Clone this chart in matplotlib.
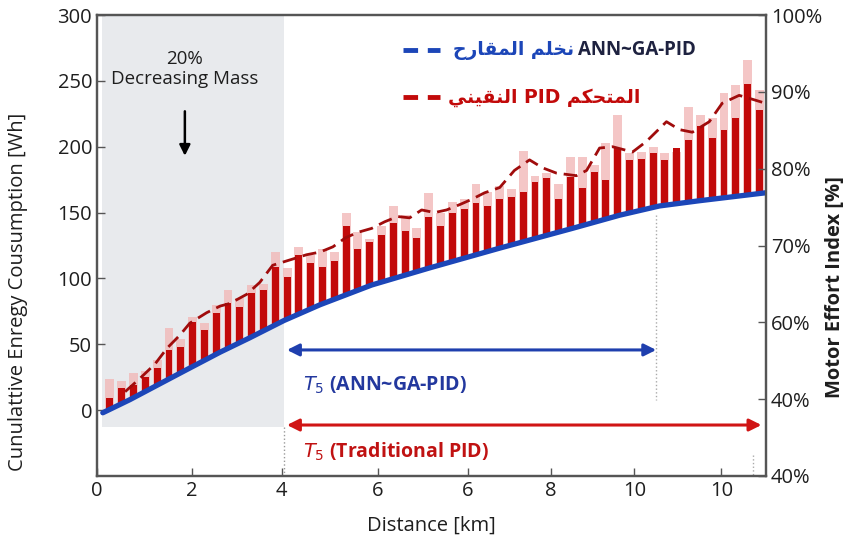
# ---------- Importing Libraries ---------- #
import numpy as np
import matplotlib
matplotlib.use("Agg")
from matplotlib import pyplot as plt
from matplotlib.lines import Line2D

# ---------- Data ---------- #
# x positions are in "tick units" (the reference axis labels are not evenly spaced)
tick_pos = [0, 2.13, 4.14, 6.29, 8.31, 10.17, 12.05, 14.0]
tick_labels = ['0', '2', '4', '6', '6', '8', '10', '10']

# blue cumulative curve (ANN~GA-PID)
blue_x = [0.13, 0.74, 1.41, 1.97, 2.76, 3.43, 4.19, 5.0, 6.16, 7.46, 9.03, 10.66, 11.72, 12.61, 13.51, 14.99]
blue_y = [-2, 8, 20, 30, 44, 55, 68, 80, 95, 108, 123, 138, 148, 155, 159, 165]

# red dashed curve (traditional PID)
red_x = [0.63, 0.96, 1.30, 1.57, 1.86, 2.08, 2.46, 2.76, 2.98, 3.36, 3.65, 3.94, 4.32, 4.70, 5.00, 5.29,
         5.58, 5.85, 6.16, 6.45, 6.74, 7.01, 7.28, 7.57, 7.84, 8.13, 8.40, 8.69, 9.03, 9.36, 9.70, 9.99,
         10.30, 10.75, 10.98, 11.27, 11.56, 12.01, 12.32, 12.77, 13.06, 13.35, 13.73, 14.02, 14.40, 14.70, 14.99]
red_y = [14, 24, 35, 47, 57, 66, 74, 79, 81, 88, 97, 110, 114, 118, 120, 124,
         131, 135, 138, 143, 147, 146, 152, 150, 152, 156, 160, 165, 169, 182, 190, 184,
         180, 178, 182, 199, 200, 196, 204, 219, 213, 211, 219, 233, 239, 236, 233]

# bar tops (dark red = measured, pink = peak)
bar_dark = [9, 17, 19, 25, 32, 46, 48, 67, 61, 74, 81, 78, 89, 91, 109, 101, 118, 112, 109, 113,
            140, 122, 128, 133, 142, 136, 131, 147, 140, 150, 153, 157, 155, 160,
            162, 166, 173, 176, 160, 177, 169, 181, 175, 199, 190, 191, 195, 190, 199, 205, 216, 207,
            213, 222, 248, 228]
bar_pink = [24, 22, 28, 30, 38, 62, 54, 71, 66, 80, 91, 85, 95, 96, 120, 108, 124, 118, 122, 120,
            150, 135, 130, 140, 155, 148, 138, 165, 150, 158, 160, 172, 166, 170,
            168, 197, 178, 180, 172, 192, 192, 186, 203, 224, 195, 196, 200, 195, 196, 230, 224, 222,
            241, 247, 266, 243]

right_ticks = [100, 90, 80, 70, 60, 50, 40]
right_labels = ['100%', '90%', '80%', '70%', '60%', '40%', '40%']

leg1_ar = "نخلم المقارح"
leg1_en = "ANN~GA-PID"
leg2 = "المتحكم PID النقيني"

# ---------- Functions ---------- #
FORMS = {  # isolated, final, initial, medial
    'ا': ('\uFE8D', '\uFE8E', None, None),
    'ر': ('\uFEAD', '\uFEAE', None, None),
    'ت': ('\uFE95', '\uFE96', '\uFE97', '\uFE98'),
    'ح': ('\uFEA1', '\uFEA2', '\uFEA3', '\uFEA4'),
    'خ': ('\uFEA5', '\uFEA6', '\uFEA7', '\uFEA8'),
    'ق': ('\uFED5', '\uFED6', '\uFED7', '\uFED8'),
    'ك': ('\uFED9', '\uFEDA', '\uFEDB', '\uFEDC'),
    'ل': ('\uFEDD', '\uFEDE', '\uFEDF', '\uFEE0'),
    'م': ('\uFEE1', '\uFEE2', '\uFEE3', '\uFEE4'),
    'ن': ('\uFEE5', '\uFEE6', '\uFEE7', '\uFEE8'),
    'ي': ('\uFEF1', '\uFEF2', '\uFEF3', '\uFEF4'),
}


def shape_word(w):
    out = []
    for i, c in enumerate(w):
        f = FORMS[c]
        prev = i > 0 and FORMS[w[i - 1]][2] is not None
        nxt = i < len(w) - 1 and f[2] is not None
        if prev and nxt:
            out.append(f[3])
        elif prev:
            out.append(f[1])
        elif nxt:
            out.append(f[2])
        else:
            out.append(f[0])
    return ''.join(reversed(out))


def rtl(text):
    """crude right-to-left layout since matplotlib has no bidi/shaping"""
    words = text.split(' ')
    vis = [shape_word(w) if w[0] in FORMS else w for w in words]
    return ' '.join(reversed(vis))


# ---------- Main Code ---------- #
plt.rcParams['font.family'] = ['Open Sans', 'DejaVu Sans']
fig = plt.figure(figsize=(8.51, 5.52), dpi=100)
ax = fig.add_axes([0.114, 0.1377, 0.786, 0.8351])

DARK_RED = '#c20a0a'
BLUE = '#1c46b8'
GRAY = '#555555'
TXT = '#1e1e1e'

bar_x = 0.29 + 0.2648 * np.arange(len(bar_dark))
base = np.interp(bar_x, blue_x, blue_y)

# shaded region
ax.fill_between([0.12, 4.19], -13, 300, color='#e8eaed', zorder=0, lw=0)

ax.bar(bar_x, np.array(bar_pink) - base, bottom=base, width=0.2, color='#f2b8b8', alpha=0.8, zorder=1)
ax.bar(bar_x, np.array(bar_dark) - base, bottom=base, width=0.155, color=DARK_RED, zorder=2)
ax.plot(red_x, red_y, '--', color='#a00c0c', lw=2.0, dashes=(5, 2.5), zorder=3)
ax.plot(blue_x, blue_y, '-', color=BLUE, lw=3.8, solid_capstyle='round', zorder=4)

# dotted guides
ax.plot([4.19, 4.19], [-13, -50], ':', color='#999999', lw=1)
ax.plot([12.54, 12.54], [148, 8], ':', color='#aaaaaa', lw=1)
ax.plot([14.72, 14.72], [-34, -50], ':', color='#aaaaaa', lw=1)

# double arrows
ax.annotate('', xy=(4.26, 45.7), xytext=(12.54, 45.7),
            arrowprops=dict(arrowstyle='<|-|>', color='#1f3fae', lw=2.2, mutation_scale=18,
                            shrinkA=0, shrinkB=0))
ax.annotate('', xy=(4.26, -11.3), xytext=(14.9, -11.3),
            arrowprops=dict(arrowstyle='<|-|>', color='#d01515', lw=2.2, mutation_scale=18,
                            shrinkA=0, shrinkB=0))
ax.text(4.62, 19, r'$T_5$ (ANN~GA-PID)', color='#23389e', fontsize=14, fontweight='bold', va='center')
ax.text(4.62, -31.8, r'$T_5$ (Traditional PID)', color='#c01212', fontsize=14, fontweight='bold', va='center')

# mass annotation
ax.text(1.97, 259, '20%\nDecreasing Mass', ha='center', va='center', fontsize=13.5, color=TXT,
        linespacing=1.15)
ax.annotate('', xy=(1.97, 191), xytext=(1.97, 229),
            arrowprops=dict(arrowstyle='-|>', color='black', lw=1.8, mutation_scale=16))

# legend built by hand (two colours on the first row)
ax.add_line(Line2D([0.457, 0.513], [0.924, 0.924], transform=ax.transAxes, color=BLUE, lw=3.5,
                   dashes=(3, 2)))
ax.add_line(Line2D([0.457, 0.513], [0.822, 0.822], transform=ax.transAxes, color=DARK_RED, lw=3.5,
                   dashes=(3, 2)))
ax.text(0.714, 0.924, rtl(leg1_ar), transform=ax.transAxes, ha='right', va='center', color=BLUE,
        fontsize=13.5, fontweight='bold', family=['DejaVu Sans'])
ax.text(0.719, 0.924, leg1_en, transform=ax.transAxes, ha='left', va='center', color='#1e2240',
        fontsize=13.5, fontweight='bold')
ax.text(0.525, 0.822, rtl(leg2), transform=ax.transAxes, ha='left', va='center', color=DARK_RED,
        fontsize=13.5, fontweight='bold', family=['DejaVu Sans'])

ax.set_xlim(0, 15)
ax.set_ylim(-50, 300)
ax.set_xticks(tick_pos)
ax.set_xticklabels(tick_labels)
ax.set_yticks([0, 50, 100, 150, 200, 250, 300])
ax.tick_params(direction='in', length=6, width=1, colors=GRAY, labelcolor=TXT, labelsize=14.5)
ax.set_xlabel('Distance [km]', fontsize=14.5, color=TXT, labelpad=11)
ax.set_ylabel('Cunulattive Enregy Cousumption [Wh]', fontsize=14.5, color=TXT)
ax.yaxis.set_label_coords(-0.103, 0.40)

ax2 = ax.twinx()
ax2.set_ylim(40, 100)
ax2.set_yticks(right_ticks)
ax2.set_yticklabels(right_labels)
ax2.tick_params(direction='in', length=6, width=1, colors=GRAY, labelcolor=TXT, labelsize=14.5)
ax2.set_ylabel('Motor Effort Index [%]', fontsize=14.5, color=TXT, fontweight='bold')
ax2.yaxis.set_label_coords(1.088, 0.41)

for a in (ax, ax2):
    for s in a.spines.values():
        s.set_color(GRAY)
        s.set_linewidth(1.6)

fig.savefig('out.png', dpi=100)
